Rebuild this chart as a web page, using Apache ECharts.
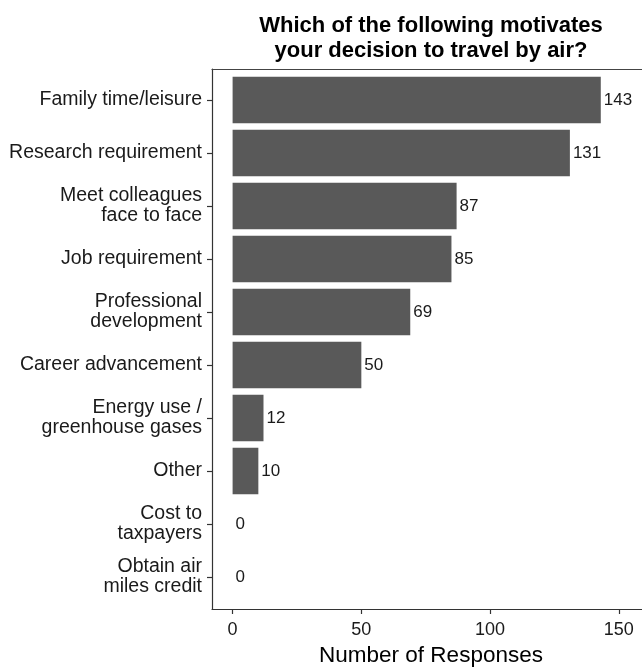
<!DOCTYPE html>
<html>
<head>
<meta charset="utf-8">
<script src="https://cdn.jsdelivr.net/npm/echarts@6/dist/echarts.min.js"></script>
<style>html,body{margin:0;padding:0;background:#fff}#c{width:642px;height:667px}</style>
</head>
<body>
<div id="c"></div>
<script>
var categories = ["Family time/leisure","Research requirement","Meet colleagues\nface to face","Job requirement","Professional\ndevelopment","Career advancement","Energy use /\ngreenhouse gases","Other","Cost to\ntaxpayers","Obtain air\nmiles credit"];
var responses = [143,131,87,85,69,50,12,10,0,0];
var xTicks = [0,50,100,150];

var FONT = '"Liberation Sans", Arial, sans-serif';
var XMIN = -8, XMAX = 166;
var chart = echarts.init(document.getElementById('c'));
chart.setOption({
  animation: false,
  title: {
    text: 'Which of the following motivates\nyour decision to travel by air?',
    left: 431, top: 13, textAlign: 'center', padding: 0,
    textStyle: {fontFamily: FONT, fontSize: 22, fontWeight: 'bold', color: '#000', lineHeight: 25}
  },
  grid: [
    {left: 212, top: 73.5, width: 448, height: 530, outerBoundsMode: 'none', containLabel: false},
    {left: 212, top: 69, width: 448, height: 540, outerBoundsMode: 'none', containLabel: false}
  ],
  xAxis: [
    {gridIndex: 0, type: 'value', min: XMIN, max: XMAX, show: false},
    {gridIndex: 1, type: 'value', min: XMIN, max: XMAX, position: 'bottom',
     axisLine: {show: true, onZero: false, lineStyle: {color: '#333', width: 1.2}},
     axisTick: {show: true, length: 5, customValues: xTicks, lineStyle: {color: '#333', width: 1.2}},
     axisLabel: {customValues: xTicks, fontFamily: FONT, fontSize: 18, color: '#1a1a1a', margin: 12},
     splitLine: {show: false},
     name: 'Number of Responses', nameLocation: 'middle', nameGap: 35,
     nameTextStyle: {fontFamily: FONT, fontSize: 22.5, color: '#000', padding: [0, 10, 0, 0]}
    },
    {gridIndex: 1, type: 'value', min: XMIN, max: XMAX, position: 'top',
     axisLine: {show: true, onZero: false, lineStyle: {color: '#444', width: 1.2}},
     axisTick: {show: false}, axisLabel: {show: false}, splitLine: {show: false}}
  ],
  yAxis: [
    {gridIndex: 0, type: 'category', data: categories, inverse: true,
     axisLine: {show: false, onZero: false},
     axisTick: {show: true, alignWithLabel: true, length: 5, lineStyle: {color: '#333', width: 1.2}},
     axisLabel: {fontFamily: FONT, fontSize: 19.5, color: '#1a1a1a', margin: 10, lineHeight: 20}
    },
    {gridIndex: 1, type: 'value', min: 0, max: 1,
     axisLine: {show: true, onZero: false, lineStyle: {color: '#333', width: 1.2}},
     axisTick: {show: false}, axisLabel: {show: false}, splitLine: {show: false}}
  ],
  series: [{
    type: 'bar', xAxisIndex: 0, yAxisIndex: 0,
    data: responses, barWidth: '88%',
    itemStyle: {color: '#595959'},
    label: {show: true, position: 'right', distance: 3, fontFamily: FONT, fontSize: 17, color: '#1a1a1a'}
  }]
});
</script>
</body>
</html>
